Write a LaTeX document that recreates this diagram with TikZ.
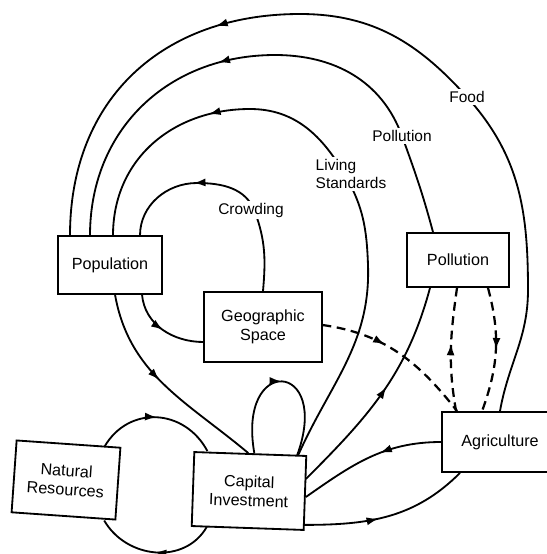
\documentclass[tikz,border=0pt]{standalone}
\usepackage{fontspec}
\setmainfont{Liberation Sans}
\usetikzlibrary{arrows.meta,calc,decorations.markings}

\begin{document}
\begin{tikzpicture}[
    x=0.025cm, y=0.025cm,
    box/.style={rectangle, draw=black, line width=1.3pt, fill=white, align=center, font=\fontsize{11.5}{13.5}\selectfont},
    link/.style={line width=1.3pt},
    dashlink/.style={line width=1.6pt, dash pattern=on 0.22cm off 0.14cm},
    flow/.style={postaction={decorate, decoration={markings, mark=at position #1 with {\arrow{Latex[length=3mm,width=2mm]}}}}},
    tag/.style={fill=white, inner sep=1.5pt, font=\fontsize{11}{13}\selectfont, align=left}
]
\useasboundingbox (0,0) rectangle (547,-554);

% Sectors
\node[box, minimum width=2.58cm, minimum height=1.43cm] (pop) at (110,-265) {Population};
\node[box, minimum width=2.93cm, minimum height=1.75cm] (geo) at (263,-327) {Geographic\\Space};
\node[box, minimum width=2.53cm, minimum height=1.35cm] (poll) at (458,-260) {Pollution};
\node[box, minimum width=2.9cm, minimum height=1.5cm] (agri) at (500,-442) {Agriculture};
\node[box, minimum width=2.6cm, minimum height=1.8cm, rotate=-4] (nat) at (66,-480) {Natural\\Resources};
\node[box, minimum width=2.8cm, minimum height=1.85cm, rotate=-2] (cap) at (249,-491) {Capital\\Investment};

% Big loops back to population
\draw[link, flow=0.69] ($(agri.north)+(0,0)$) to[out=80,in=-90] (528,-290) to[out=90,in=-48] (467,-97) to[out=132,in=0] (300,-14) to[out=180,in=90,looseness=1.1] ($(pop.north)+(-40,0)$);
\draw[link, flow=0.58] ($(poll.north)+(-25,0)$) to[out=105,in=-70] (402,-136) to[out=110,in=0] (275,-55) to[out=180,in=90,looseness=1.05] ($(pop.north)+(-20,0)$);
\draw[link, flow=0.735] ($(cap.north east)+(-9,0)$) to[out=66,in=-88] (368,-265) to[out=92,in=-60] (345,-175) to[out=120,in=0] (250,-109) to[out=180,in=90,looseness=1.05] ($(pop.north)+(3,0)$);
\draw[link, flow=0.65] (geo.north) to[out=85,in=-70] (255,-212) to[out=110,in=0] (197,-183) to[out=180,in=90] ($(pop.north)+(30,0)$);

% Labels
\node[tag] (food) at (467,-97) {Food};
\node[tag] (pollab) at (402,-136) {Pollution};
\node[tag] (living) at (351,-174) {Living\\Standards};
\node[tag] (crowd) at (251,-210) {Crowding};

% Population outflows
\draw[link, flow=0.5] ($(pop.south)+(32,0)$) to[out=-85,in=180] ($(geo.west)+(0,-15)$);
\draw[link, flow=0.46] ($(pop.south)+(5,0)$) to[out=-80,in=140] ($(cap.north)+(-2,0)$);

% Capital investment
\draw[link, flow=0.5] ($(cap.north)+(4,0)$) to[out=100,in=70,looseness=6] ($(cap.north east)+(-10,0)$);
\draw[link, flow=0.5] ($(nat.north east)+(-17,0)$) to[out=60,in=118,looseness=1.2] ($(cap.north west)+(14,0)$);
\draw[link, flow=0.5] ($(cap.south west)+(16,0)$) to[out=-120,in=-60,looseness=1.1] ($(nat.south east)+(-12,0)$);
\draw[link, flow=0.53] ($(cap.east)+(0,14)$) to[out=45,in=-105] ($(poll.south)+(-28,0)$);
\draw[link, flow=0.42] (agri.west) to[out=180,in=35] ($(cap.east)+(0,-4)$);
\draw[link, flow=0.44] ($(cap.south east)+(0,6)$) to[out=0,in=-135] ($(agri.south)+(-40,0)$);

% Dashed links
\draw[dashlink, flow=0.4] ($(geo.east)+(0,2)$) to[out=-8,in=128] ($(agri.north west)+(16,0)$);
\draw[dashlink, flow=0.55] ($(agri.north west)+(15,0)$) to[out=100,in=-98] ($(poll.south)+(-1,0)$);
\draw[dashlink, flow=0.5] ($(poll.south)+(30,0)$) to[out=-75,in=70] ($(agri.north west)+(41,0)$);

\end{tikzpicture}
\end{document}
